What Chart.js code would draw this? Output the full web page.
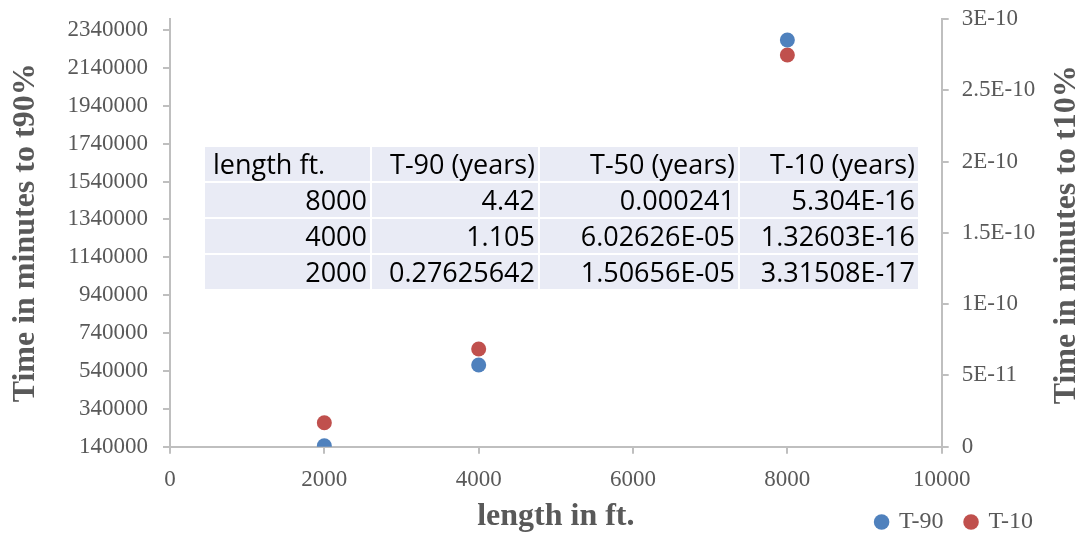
<!DOCTYPE html>
<html>
<head>
<meta charset="utf-8">
<script src="https://cdn.jsdelivr.net/npm/chart.js@4.4.1/dist/chart.umd.min.js"></script>
<style>
  body { margin: 0; background: #fff; }
  #wrap { position: relative; width: 1087px; height: 534px; }
  #tbl {
    position: absolute; left: 203px; top: 145px;
    border-collapse: separate; border-spacing: 2px;
    table-layout: fixed; width: 717px;
    font-family: 'Open Sans', sans-serif; font-size: 27px; color: #000;
  }
  #tbl td {
    background: #E9EBF5; height: 34px; line-height: 34px;
    padding: 0 3px; text-align: right; white-space: nowrap; box-sizing: border-box;
  }
  #tbl tr:first-child td:first-child { text-align: left; padding-left: 8px; }
</style>
</head>
<body>
<div id="wrap">
  <canvas id="lengthChart"></canvas>
  <table id="tbl">
    <colgroup><col style="width:165px"><col style="width:166px"><col style="width:198px"><col style="width:178px"></colgroup>
    <tbody id="tblBody"></tbody>
  </table>
</div>
<script>
// data
const lengths = [2000, 4000, 8000];
const t90Minutes = [145000, 571000, 2287000];
const t10Minutes = [1.68e-11, 6.85e-11, 2.747e-10];

const xTicks = [0, 2000, 4000, 6000, 8000, 10000];
const leftTicks = [140000, 340000, 540000, 740000, 940000, 1140000, 1340000, 1540000, 1740000, 1940000, 2140000, 2340000];
const rightTicks = [0, 5e-11, 1e-10, 1.5e-10, 2e-10, 2.5e-10, 3e-10];
const rightTickLabels = ['0', '5E-11', '1E-10', '1.5E-10', '2E-10', '2.5E-10', '3E-10'];

// the table pasted on the chart
const tableHead = ['length ft.', 'T-90 (years)', 'T-50 (years)', 'T-10 (years)'];
const tableLengths = ['8000', '4000', '2000'];
const tableT90 = ['4.42', '1.105', '0.27625642'];
const tableT50 = ['0.000241', '6.02626E-05', '1.50656E-05'];
const tableT10 = ['5.304E-16', '1.32603E-16', '3.31508E-17'];

const body = document.getElementById('tblBody');
const rows = [tableHead].concat(tableLengths.map((l, i) => [l, tableT90[i], tableT50[i], tableT10[i]]));
rows.forEach(r => {
    const tr = document.createElement('tr');
    r.forEach(c => {
        const td = document.createElement('td');
        td.textContent = c;
        tr.appendChild(td);
    });
    body.appendChild(tr);
});

const axisGray = '#BFBFBF';
const textGray = '#595959';
const tickFont = { family: 'Liberation Serif', size: 23 };
const legendFont = { family: 'Liberation Serif', size: 24 };
const titleFont = { family: 'Liberation Serif', size: 32, weight: 'bold' };
const gridOpts = { drawOnChartArea: false, color: axisGray, lineWidth: 2, tickLength: 7 };
const borderOpts = { color: axisGray, width: 2 };

// fixed box sizes so the plot area sits where it does in the original
function fixBox(size) {
    return s => {
        if (s.isHorizontal()) s.height = size; else s.width = size;
        s.paddingTop = 0;
        s.paddingBottom = 0;
        s.paddingLeft = 0;
        s.paddingRight = 0;
    };
}

// right axis title reads bottom-to-top like the left one
const rightTitle = {
    id: 'rightTitle',
    afterDraw(chart) {
        const ctx = chart.ctx;
        const area = chart.chartArea;
        ctx.save();
        ctx.translate(chart.width - 20, (area.top + area.bottom) / 2 + 2);
        ctx.rotate(-Math.PI / 2);
        ctx.font = 'bold 32px "Liberation Serif"';
        ctx.fillStyle = textGray;
        ctx.textAlign = 'center';
        ctx.textBaseline = 'middle';
        ctx.fillText('Time in minutes to t10%', 0, 0);
        ctx.restore();
    }
};

const ctx = document.getElementById('lengthChart').getContext('2d');
const lengthChart = new Chart(ctx, {
    type: 'scatter',
    data: {
        datasets: [
            {
                label: 'T-90',
                data: lengths.map((x, i) => ({ x: x, y: t90Minutes[i] })),
                yAxisID: 'y',
                backgroundColor: '#4F81BD',
                borderColor: '#4F81BD',
                pointRadius: 7.5,
                pointHoverRadius: 7.5,
                pointBorderWidth: 0
            },
            {
                label: 'T-10',
                data: lengths.map((x, i) => ({ x: x, y: t10Minutes[i] })),
                yAxisID: 'y1',
                backgroundColor: '#C0504D',
                borderColor: '#C0504D',
                pointRadius: 7.5,
                pointHoverRadius: 7.5,
                pointBorderWidth: 0
            }
        ]
    },
    options: {
        responsive: true,
        maintainAspectRatio: false,
        animation: false,
        layout: { padding: { top: 19, left: 0, right: 32, bottom: 0 } },
        plugins: {
            tooltip: { enabled: false },
            legend: {
                position: 'bottom',
                align: 'end',
                maxHeight: 46,
                labels: {
                    usePointStyle: true,
                    pointStyle: 'circle',
                    boxWidth: 11,
                    boxHeight: 11,
                    padding: 22,
                    font: legendFont,
                    color: textGray
                }
            }
        },
        scales: {
            x: {
                type: 'linear',
                position: 'bottom',
                min: 0,
                max: 10000,
                afterBuildTicks: s => { s.ticks = xTicks.map(v => ({ value: v })); },
                afterFit: fixBox(41.3),
                ticks: { font: tickFont, color: textGray, padding: 12, maxRotation: 0, callback: v => String(v) },
                grid: gridOpts,
                border: borderOpts,
                title: { display: true, text: 'length in ft.', font: titleFont, color: textGray, padding: { top: 0, bottom: -48.2 } }
            },
            y: {
                position: 'left',
                min: 140000,
                max: 2398000,
                afterBuildTicks: s => { s.ticks = leftTicks.map(v => ({ value: v })); },
                afterFit: fixBox(170),
                ticks: { font: tickFont, color: textGray, padding: 15, callback: v => String(v) },
                grid: gridOpts,
                border: borderOpts,
                title: { display: true, text: 'Time in minutes to t90%', font: titleFont, color: textGray, padding: { top: 7, bottom: 0 } }
            },
            y1: {
                position: 'right',
                min: 0,
                max: 3e-10,
                afterBuildTicks: s => { s.ticks = rightTicks.map(v => ({ value: v })); },
                afterFit: fixBox(113.3),
                ticks: { font: tickFont, color: textGray, padding: 13, callback: (v, i) => rightTickLabels[i] },
                grid: gridOpts,
                border: borderOpts
            }
        }
    },
    plugins: [rightTitle]
});
</script>
</body>
</html>
